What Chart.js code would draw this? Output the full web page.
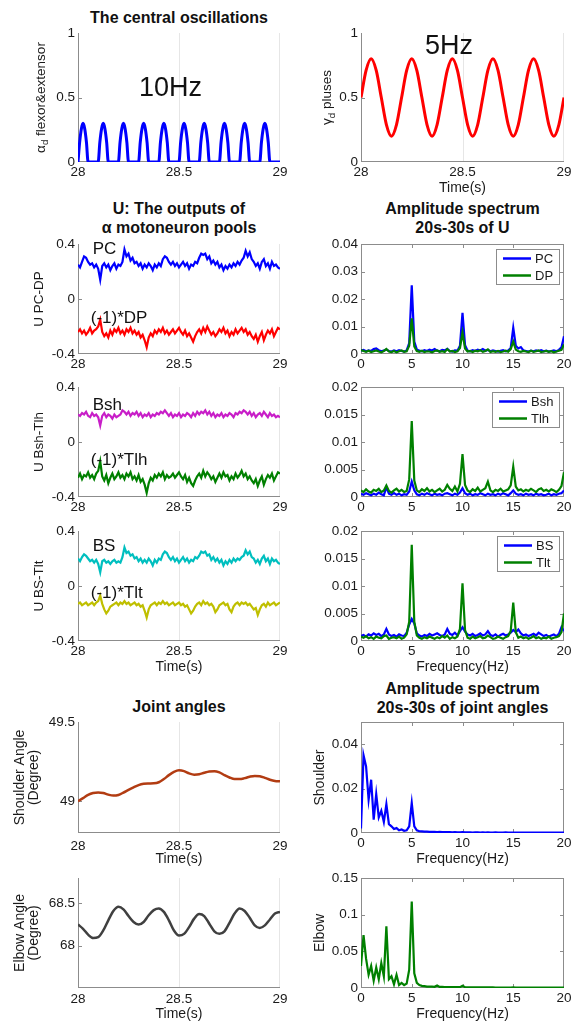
<!DOCTYPE html>
<html>
<head>
<meta charset="utf-8">
<script src="https://cdn.jsdelivr.net/npm/chart.js"></script>
<style>
  body { margin: 0; background: #fff; width: 573px; height: 1023px; position: relative; overflow: hidden;
         font-family: "Liberation Sans", Arial, Helvetica, sans-serif; }
  .ttl { position: absolute; width: 300px; text-align: center; font-weight: bold; font-size: 16px;
         line-height: 19px; color: #111; }
</style>
</head>
<body>
<div class="ttl" style="left:29px;top:7.5px">The central oscillations</div>
<div class="ttl" style="left:29px;top:198.5px">U: The outputs of<br>α motoneuron pools</div>
<div class="ttl" style="left:312.5px;top:198.5px">Amplitude spectrum<br>20s-30s of U</div>
<div class="ttl" style="left:29px;top:696.5px">Joint angles</div>
<div class="ttl" style="left:312.5px;top:678.5px">Amplitude spectrum<br>20s-30s of joint angles</div>
<script>
// ---- data ----
var timeTicks = [28, 28.5, 29];
var freqTicks = [0, 5, 10, 15, 20];

// 10 Hz rectified alpha drive
var alphaT = [28,28.008,28.017,28.025,28.033,28.042,28.05,
  28.1,28.108,28.117,28.125,28.133,28.142,28.15,
  28.2,28.208,28.217,28.225,28.233,28.242,28.25,
  28.3,28.308,28.317,28.325,28.333,28.342,28.35,
  28.4,28.408,28.417,28.425,28.433,28.442,28.45,
  28.5,28.508,28.517,28.525,28.533,28.542,28.55,
  28.6,28.608,28.617,28.625,28.633,28.642,28.65,
  28.7,28.708,28.717,28.725,28.733,28.742,28.75,
  28.8,28.808,28.817,28.825,28.833,28.842,28.85,
  28.9,28.908,28.917,28.925,28.933,28.942,28.95,
  29];
var alphaV = [0,0.15,0.26,0.3,0.26,0.15,0, 0,0.15,0.26,0.3,0.26,0.15,0,
  0,0.15,0.26,0.3,0.26,0.15,0, 0,0.15,0.26,0.3,0.26,0.15,0,
  0,0.15,0.26,0.3,0.26,0.15,0, 0,0.15,0.26,0.3,0.26,0.15,0,
  0,0.15,0.26,0.3,0.26,0.15,0, 0,0.15,0.26,0.3,0.26,0.15,0,
  0,0.15,0.26,0.3,0.26,0.15,0, 0,0.15,0.26,0.3,0.26,0.15,0,
  0];

// coarse time base (25 ms)
var tCoarse = [28,28.025,28.05,28.075,28.1,28.125,28.15,28.175,28.2,28.225,
  28.25,28.275,28.3,28.325,28.35,28.375,28.4,28.425,28.45,28.475,
  28.5,28.525,28.55,28.575,28.6,28.625,28.65,28.675,28.7,28.725,
  28.75,28.775,28.8,28.825,28.85,28.875,28.9,28.925,28.95,28.975,29];
var gammaV = [0.5,0.71,0.8,0.71,0.5,0.29,0.2,0.29, 0.5,0.71,0.8,0.71,0.5,0.29,0.2,0.29,
  0.5,0.71,0.8,0.71,0.5,0.29,0.2,0.29, 0.5,0.71,0.8,0.71,0.5,0.29,0.2,0.29,
  0.5,0.71,0.8,0.71,0.5,0.29,0.2,0.29, 0.5];
var shoulderV = [49.000,49.020,49.040,49.052,49.056,49.052,49.042,49.036,49.040,49.055,
  49.072,49.088,49.102,49.110,49.112,49.113,49.120,49.140,49.165,49.185,
  49.195,49.190,49.176,49.168,49.170,49.180,49.188,49.190,49.182,49.165,
  49.150,49.140,49.140,49.146,49.155,49.160,49.158,49.148,49.136,49.128,49.126];
var elbowV = [68.25,68.20,68.13,68.09,68.10,68.18,68.30,68.41,68.46,68.43,
  68.35,68.28,68.25,68.28,68.36,68.42,68.44,68.40,68.30,68.18,
  68.12,68.14,68.22,68.32,68.375,68.35,68.26,68.17,68.14,68.17,
  68.27,68.38,68.44,68.41,68.33,68.24,68.21,68.24,68.31,68.38,68.40];

// motoneuron outputs (10 ms)
var tU = [28,28.01,28.02,28.03,28.04,28.05,28.06,28.07,28.08,28.09,
  28.1,28.11,28.12,28.13,28.14,28.15,28.16,28.17,28.18,28.19,
  28.2,28.21,28.22,28.23,28.24,28.25,28.26,28.27,28.28,28.29,
  28.3,28.31,28.32,28.33,28.34,28.35,28.36,28.37,28.38,28.39,
  28.4,28.41,28.42,28.43,28.44,28.45,28.46,28.47,28.48,28.49,
  28.5,28.51,28.52,28.53,28.54,28.55,28.56,28.57,28.58,28.59,
  28.6,28.61,28.62,28.63,28.64,28.65,28.66,28.67,28.68,28.69,
  28.7,28.71,28.72,28.73,28.74,28.75,28.76,28.77,28.78,28.79,
  28.8,28.81,28.82,28.83,28.84,28.85,28.86,28.87,28.88,28.89,
  28.9,28.91,28.92,28.93,28.94,28.95,28.96,28.97,28.98,28.99,29];
var uPC = [0.25,0.23,0.27,0.31,0.30,0.27,0.25,0.26,0.23,0.25,
  0.22,0.14,0.24,0.26,0.23,0.25,0.21,0.24,0.26,0.22,
  0.25,0.24,0.27,0.36,0.31,0.33,0.28,0.30,0.26,0.27,
  0.24,0.26,0.22,0.25,0.23,0.26,0.24,0.21,0.25,0.23,
  0.26,0.24,0.29,0.31,0.30,0.27,0.25,0.27,0.24,0.26,
  0.23,0.25,0.27,0.24,0.26,0.22,0.25,0.24,0.27,0.26,
  0.30,0.33,0.32,0.33,0.29,0.31,0.26,0.28,0.25,0.27,
  0.23,0.25,0.21,0.24,0.22,0.25,0.23,0.26,0.24,0.27,
  0.25,0.28,0.30,0.35,0.31,0.34,0.29,0.27,0.24,0.26,
  0.22,0.27,0.29,0.24,0.26,0.22,0.27,0.24,0.25,0.23,0.22];
var uDP = [-0.24,-0.22,-0.25,-0.23,-0.26,-0.24,-0.21,-0.25,-0.23,-0.22,
  -0.20,-0.15,-0.24,-0.27,-0.25,-0.28,-0.23,-0.26,-0.22,-0.24,
  -0.21,-0.25,-0.23,-0.26,-0.22,-0.24,-0.21,-0.25,-0.23,-0.26,
  -0.24,-0.28,-0.26,-0.30,-0.35,-0.28,-0.25,-0.27,-0.23,-0.25,
  -0.22,-0.24,-0.21,-0.25,-0.23,-0.26,-0.24,-0.22,-0.25,-0.23,
  -0.21,-0.24,-0.26,-0.23,-0.27,-0.25,-0.28,-0.31,-0.27,-0.24,
  -0.22,-0.25,-0.21,-0.24,-0.20,-0.23,-0.26,-0.24,-0.27,-0.25,
  -0.22,-0.24,-0.21,-0.25,-0.23,-0.27,-0.24,-0.26,-0.22,-0.25,
  -0.23,-0.21,-0.24,-0.22,-0.26,-0.24,-0.27,-0.29,-0.26,-0.31,
  -0.27,-0.24,-0.30,-0.26,-0.23,-0.25,-0.22,-0.27,-0.24,-0.21,-0.22];
var uBsh = [0.20,0.19,0.21,0.20,0.22,0.19,0.18,0.21,0.19,0.20,
  0.18,0.12,0.19,0.21,0.18,0.20,0.19,0.17,0.20,0.18,
  0.19,0.20,0.23,0.22,0.20,0.22,0.19,0.21,0.20,0.22,
  0.19,0.21,0.18,0.20,0.19,0.21,0.18,0.20,0.19,0.21,
  0.20,0.22,0.21,0.23,0.21,0.19,0.21,0.18,0.20,0.19,
  0.21,0.18,0.20,0.19,0.21,0.20,0.18,0.21,0.19,0.22,
  0.20,0.22,0.21,0.23,0.20,0.22,0.19,0.21,0.18,0.20,
  0.19,0.21,0.18,0.20,0.19,0.21,0.20,0.18,0.21,0.20,
  0.22,0.21,0.23,0.22,0.20,0.22,0.19,0.21,0.18,0.20,
  0.21,0.19,0.22,0.20,0.18,0.21,0.19,0.20,0.18,0.19,0.18];
var uTlh = [-0.26,-0.23,-0.27,-0.24,-0.25,-0.22,-0.26,-0.24,-0.27,-0.23,
  -0.21,-0.14,-0.25,-0.28,-0.24,-0.30,-0.26,-0.23,-0.27,-0.25,
  -0.22,-0.26,-0.24,-0.27,-0.23,-0.25,-0.22,-0.27,-0.25,-0.28,
  -0.24,-0.29,-0.27,-0.31,-0.37,-0.30,-0.26,-0.28,-0.24,-0.26,
  -0.23,-0.25,-0.22,-0.27,-0.24,-0.26,-0.25,-0.23,-0.26,-0.24,
  -0.22,-0.25,-0.27,-0.24,-0.29,-0.26,-0.30,-0.32,-0.28,-0.25,
  -0.23,-0.26,-0.21,-0.25,-0.22,-0.24,-0.27,-0.25,-0.29,-0.26,
  -0.23,-0.26,-0.22,-0.25,-0.24,-0.28,-0.25,-0.27,-0.23,-0.26,
  -0.24,-0.21,-0.25,-0.23,-0.27,-0.25,-0.28,-0.30,-0.27,-0.32,
  -0.28,-0.25,-0.31,-0.27,-0.24,-0.26,-0.23,-0.28,-0.25,-0.22,-0.23];
var uBS = [0.20,0.18,0.21,0.23,0.22,0.20,0.18,0.19,0.17,0.19,
  0.16,0.10,0.18,0.19,0.17,0.18,0.16,0.18,0.19,0.17,
  0.18,0.17,0.21,0.28,0.24,0.25,0.22,0.23,0.20,0.21,
  0.18,0.20,0.17,0.19,0.17,0.20,0.18,0.15,0.19,0.17,
  0.20,0.19,0.23,0.25,0.24,0.21,0.19,0.21,0.18,0.20,
  0.17,0.19,0.21,0.18,0.20,0.17,0.19,0.18,0.21,0.20,
  0.22,0.25,0.24,0.25,0.22,0.23,0.19,0.21,0.18,0.20,
  0.17,0.19,0.15,0.18,0.16,0.19,0.17,0.20,0.18,0.20,
  0.19,0.21,0.22,0.26,0.23,0.25,0.21,0.20,0.17,0.19,
  0.16,0.20,0.22,0.18,0.20,0.16,0.20,0.18,0.19,0.17,0.16];
var uTlt = [-0.13,-0.12,-0.14,-0.13,-0.12,-0.14,-0.13,-0.12,-0.14,-0.12,
  -0.11,-0.07,-0.13,-0.17,-0.20,-0.18,-0.15,-0.14,-0.13,-0.12,
  -0.14,-0.12,-0.13,-0.11,-0.13,-0.12,-0.14,-0.13,-0.12,-0.14,
  -0.13,-0.15,-0.14,-0.18,-0.23,-0.17,-0.14,-0.13,-0.12,-0.14,
  -0.12,-0.13,-0.11,-0.13,-0.12,-0.14,-0.13,-0.12,-0.14,-0.13,
  -0.12,-0.14,-0.13,-0.15,-0.14,-0.17,-0.20,-0.18,-0.15,-0.13,
  -0.12,-0.14,-0.11,-0.13,-0.12,-0.14,-0.13,-0.15,-0.19,-0.17,
  -0.14,-0.13,-0.12,-0.14,-0.13,-0.17,-0.19,-0.15,-0.13,-0.12,
  -0.14,-0.12,-0.13,-0.12,-0.14,-0.13,-0.15,-0.17,-0.16,-0.21,
  -0.17,-0.14,-0.13,-0.15,-0.12,-0.14,-0.13,-0.12,-0.14,-0.13,-0.12];

// amplitude spectra (0.25 Hz bins)
var freq = [0,0.25,0.5,0.75,1,1.25,1.5,1.75,2,2.25,
  2.5,2.75,3,3.25,3.5,3.75,4,4.25,4.5,4.75,
  5,5.25,5.5,5.75,6,6.25,6.5,6.75,7,7.25,
  7.5,7.75,8,8.25,8.5,8.75,9,9.25,9.5,9.75,
  10,10.25,10.5,10.75,11,11.25,11.5,11.75,12,12.25,
  12.5,12.75,13,13.25,13.5,13.75,14,14.25,14.5,14.75,
  15,15.25,15.5,15.75,16,16.25,16.5,16.75,17,17.25,
  17.5,17.75,18,18.25,18.5,18.75,19,19.25,19.5,19.75,20];
var specPC = [0.0012,0.0015,0.0010,0.0013,0.0011,0.0018,0.0020,0.0014,0.0010,0.0013,
  0.0016,0.0011,0.0009,0.0013,0.0010,0.0014,0.0011,0.0009,0.0013,0.0040,
  0.0250,0.0045,0.0016,0.0012,0.0010,0.0014,0.0011,0.0016,0.0013,0.0018,
  0.0012,0.0010,0.0015,0.0013,0.0019,0.0011,0.0009,0.0013,0.0012,0.0030,
  0.0150,0.0032,0.0012,0.0010,0.0014,0.0011,0.0016,0.0013,0.0018,0.0012,
  0.0015,0.0010,0.0013,0.0011,0.0009,0.0012,0.0014,0.0010,0.0013,0.0022,
  0.0095,0.0030,0.0020,0.0025,0.0013,0.0011,0.0009,0.0012,0.0010,0.0013,
  0.0011,0.0014,0.0010,0.0012,0.0009,0.0011,0.0013,0.0010,0.0015,0.0024,0.0065];
var specDP = [0.0014,0.0011,0.0008,0.0012,0.0007,0.0010,0.0013,0.0009,0.0006,0.0011,
  0.0018,0.0009,0.0007,0.0011,0.0006,0.0010,0.0013,0.0008,0.0010,0.0030,
  0.0130,0.0028,0.0011,0.0008,0.0012,0.0007,0.0010,0.0009,0.0006,0.0011,
  0.0013,0.0008,0.0010,0.0007,0.0018,0.0009,0.0011,0.0007,0.0010,0.0022,
  0.0078,0.0020,0.0009,0.0011,0.0007,0.0012,0.0010,0.0014,0.0008,0.0011,
  0.0017,0.0007,0.0010,0.0008,0.0011,0.0007,0.0009,0.0012,0.0008,0.0018,
  0.0045,0.0016,0.0010,0.0008,0.0011,0.0009,0.0007,0.0012,0.0008,0.0010,
  0.0013,0.0007,0.0009,0.0011,0.0008,0.0010,0.0006,0.0009,0.0012,0.0015,0.0035];
var specBsh = [0.0006,0.0004,0.0007,0.0005,0.0003,0.0006,0.0004,0.0008,0.0005,0.0003,
  0.0018,0.0006,0.0004,0.0007,0.0004,0.0006,0.0003,0.0005,0.0004,0.0010,
  0.0028,0.0012,0.0005,0.0003,0.0006,0.0004,0.0007,0.0005,0.0003,0.0006,
  0.0004,0.0005,0.0003,0.0006,0.0007,0.0005,0.0003,0.0006,0.0004,0.0008,
  0.0016,0.0007,0.0004,0.0006,0.0003,0.0005,0.0004,0.0007,0.0005,0.0003,
  0.0006,0.0004,0.0005,0.0003,0.0006,0.0004,0.0007,0.0005,0.0003,0.0007,
  0.0012,0.0006,0.0004,0.0005,0.0003,0.0006,0.0004,0.0005,0.0003,0.0006,
  0.0004,0.0005,0.0003,0.0004,0.0006,0.0003,0.0005,0.0004,0.0006,0.0007,0.0012];
var specTlh = [0.0012,0.0009,0.0014,0.0010,0.0008,0.0013,0.0011,0.0015,0.0009,0.0012,
  0.0021,0.0011,0.0008,0.0012,0.0015,0.0010,0.0013,0.0009,0.0011,0.0032,
  0.0138,0.0030,0.0012,0.0009,0.0014,0.0011,0.0016,0.0010,0.0013,0.0009,
  0.0012,0.0015,0.0010,0.0013,0.0022,0.0015,0.0011,0.0019,0.0010,0.0024,
  0.0078,0.0022,0.0012,0.0009,0.0014,0.0011,0.0017,0.0010,0.0013,0.0016,
  0.0028,0.0012,0.0009,0.0013,0.0011,0.0015,0.0010,0.0012,0.0014,0.0021,
  0.0055,0.0019,0.0012,0.0014,0.0010,0.0013,0.0011,0.0015,0.0012,0.0009,
  0.0014,0.0016,0.0011,0.0013,0.0010,0.0014,0.0012,0.0009,0.0013,0.0020,0.0045];
var specBS = [0.0009,0.0011,0.0008,0.0012,0.0010,0.0014,0.0011,0.0013,0.0009,0.0012,
  0.0022,0.0012,0.0009,0.0011,0.0008,0.0012,0.0010,0.0009,0.0015,0.0030,
  0.0040,0.0032,0.0014,0.0010,0.0008,0.0011,0.0009,0.0013,0.0010,0.0012,
  0.0014,0.0011,0.0009,0.0012,0.0022,0.0013,0.0011,0.0015,0.0010,0.0018,
  0.0025,0.0017,0.0012,0.0010,0.0013,0.0009,0.0011,0.0014,0.0010,0.0012,
  0.0018,0.0011,0.0009,0.0012,0.0008,0.0011,0.0013,0.0010,0.0012,0.0015,
  0.0020,0.0016,0.0021,0.0014,0.0010,0.0012,0.0009,0.0011,0.0013,0.0010,
  0.0015,0.0012,0.0009,0.0011,0.0008,0.0010,0.0012,0.0009,0.0013,0.0025,0.0018];
var specTlt = [0.0008,0.0006,0.0009,0.0005,0.0007,0.0004,0.0008,0.0006,0.0005,0.0009,
  0.0010,0.0004,0.0006,0.0007,0.0005,0.0008,0.0004,0.0006,0.0012,0.0035,
  0.0175,0.0035,0.0010,0.0006,0.0004,0.0007,0.0005,0.0008,0.0006,0.0004,
  0.0007,0.0005,0.0009,0.0006,0.0010,0.0004,0.0007,0.0005,0.0008,0.0022,
  0.0105,0.0020,0.0006,0.0004,0.0008,0.0005,0.0007,0.0009,0.0005,0.0006,
  0.0010,0.0007,0.0004,0.0005,0.0008,0.0006,0.0004,0.0007,0.0009,0.0018,
  0.0070,0.0016,0.0006,0.0008,0.0005,0.0007,0.0004,0.0006,0.0009,0.0005,
  0.0007,0.0004,0.0006,0.0005,0.0008,0.0004,0.0006,0.0007,0.0009,0.0016,0.0050];
var specShoulder = [0.0020,0.0350,0.0300,0.0150,0.0240,0.0060,0.0175,0.0070,0.0100,0.0050,
  0.0130,0.0040,0.0030,0.0018,0.0022,0.0012,0.0016,0.0010,0.0012,0.0030,
  0.0135,0.0030,0.0012,0.0008,0.0007,0.0006,0.0006,0.0005,0.0005,0.0005,
  0.0004,0.0005,0.0004,0.0004,0.0004,0.0004,0.0003,0.0004,0.0003,0.0003,
  0.0004,0.0003,0.0003,0.0003,0.0002,0.0003,0.0003,0.0002,0.0003,0.0002,
  0.0003,0.0002,0.0002,0.0003,0.0002,0.0002,0.0002,0.0003,0.0002,0.0002,
  0.0002,0.0002,0.0002,0.0002,0.0002,0.0002,0.0002,0.0002,0.0002,0.0002,
  0.0002,0.0002,0.0002,0.0002,0.0002,0.0002,0.0002,0.0002,0.0002,0.0002,0.0002];
var specElbow = [0.030,0.072,0.040,0.018,0.030,0.010,0.028,0.012,0.034,0.016,
  0.084,0.012,0.016,0.005,0.018,0.004,0.007,0.004,0.006,0.025,
  0.118,0.020,0.007,0.004,0.003,0.0025,0.002,0.002,0.0018,0.0016,
  0.0035,0.0015,0.0014,0.0013,0.0013,0.0012,0.0012,0.0011,0.0011,0.0012,
  0.0030,0.0012,0.0010,0.0010,0.0009,0.0009,0.0009,0.0008,0.0008,0.0008,
  0.0009,0.0008,0.0008,0.0007,0.0007,0.0007,0.0007,0.0007,0.0007,0.0007,
  0.0008,0.0007,0.0007,0.0006,0.0006,0.0006,0.0006,0.0006,0.0006,0.0006,
  0.0006,0.0006,0.0006,0.0006,0.0006,0.0006,0.0006,0.0006,0.0006,0.0006,0.0006];

// ---- drawing ----
var FONT = '"Liberation Sans", Arial, Helvetica, sans-serif';
var TXT = "#1a1a1a", AXIS = "#8c8c8c", GRID = "#e6e6e6";
var BLUE = "#0000ff", RED = "#ff0000", GREEN = "#008000";
var PAD_L = 78, PAD_T = 14, PAD_R = 16, PAD_B = 40;
Chart.defaults.font.family = FONT;

function drawRot(ctx, cx, cy, parts, size) {
  ctx.save();
  ctx.translate(cx, cy);
  ctx.rotate(-Math.PI / 2);
  ctx.fillStyle = TXT;
  ctx.textBaseline = "middle";
  ctx.textAlign = "left";
  var w = 0;
  parts.forEach(function (p) {
    ctx.font = (p.sub ? size * 0.72 : size) + "px " + FONT;
    w += ctx.measureText(p.t).width;
  });
  var x0 = -w / 2;
  parts.forEach(function (p) {
    ctx.font = (p.sub ? size * 0.72 : size) + "px " + FONT;
    ctx.fillText(p.t, x0, p.sub ? size * 0.32 : 0);
    x0 += ctx.measureText(p.t).width;
  });
  ctx.restore();
}

function makeDeco(o) {
  function seg(ctx, x1, y1, x2, y2) {
    ctx.beginPath(); ctx.moveTo(x1, y1); ctx.lineTo(x2, y2); ctx.stroke();
  }
  return {
    id: "deco",
    beforeDatasetsDraw: function (chart) {
      var ctx = chart.ctx, a = chart.chartArea, x = chart.scales.x, y = chart.scales.y;
      ctx.save();
      ctx.lineWidth = 1;
      if (o.box) {
        ctx.strokeStyle = AXIS;
        ctx.strokeRect(a.left + 0.5, a.top + 0.5, a.width - 1, a.height - 1);
        o.xt.forEach(function (v) {
          if (v > o.xr[0] && v < o.xr[1]) {
            var p = Math.round(x.getPixelForValue(v)) + 0.5;
            seg(ctx, p, a.bottom, p, a.bottom - 4);
            seg(ctx, p, a.top, p, a.top + 4);
          }
        });
        o.yt.forEach(function (v) {
          if (v > o.yr[0] && v < o.yr[1]) {
            var p = Math.round(y.getPixelForValue(v)) + 0.5;
            seg(ctx, a.left, p, a.left + 4, p);
            seg(ctx, a.right, p, a.right - 4, p);
          }
        });
      } else {
        ctx.strokeStyle = GRID;
        o.xt.forEach(function (v) {
          if (v > o.xr[0]) {
            var p = Math.min(Math.round(x.getPixelForValue(v)) + 0.5, a.right - 0.5);
            seg(ctx, p, a.top, p, a.bottom);
          }
        });
        ctx.strokeStyle = AXIS;
        seg(ctx, a.left + 0.5, a.top, a.left + 0.5, a.bottom);
        seg(ctx, a.left, a.bottom - 0.5, a.right, a.bottom - 0.5);
        o.yt.forEach(function (v) {
          if (v > o.yr[0] && v < o.yr[1]) {
            var p = Math.round(y.getPixelForValue(v)) + 0.5;
            seg(ctx, a.left, p, a.left + 4, p);
          }
        });
      }
      ctx.restore();
    },
    afterDatasetsDraw: function (chart) {
      var ctx = chart.ctx, a = chart.chartArea, x = chart.scales.x, y = chart.scales.y;
      ctx.save();
      (o.texts || []).forEach(function (t) {
        ctx.font = t.size + "px " + FONT;
        ctx.fillStyle = "#111";
        ctx.textAlign = t.align || "left";
        ctx.textBaseline = "middle";
        ctx.fillText(t.t, x.getPixelForValue(t.x), y.getPixelForValue(t.y));
      });
      if (o.legend) {
        var ds = chart.data.datasets;
        ctx.font = "13px " + FONT;
        var tw = Math.max.apply(null, ds.map(function (d) { return ctx.measureText(d.label).width; }));
        var bw = Math.round(45 + tw), bh = 18 + 17 * (ds.length - 1);
        var bx = Math.round(a.right - 5 - bw), by = Math.round(a.top + 5);
        ctx.fillStyle = "#fff";
        ctx.fillRect(bx, by, bw, bh);
        ctx.strokeStyle = AXIS;
        ctx.lineWidth = 1;
        ctx.strokeRect(bx + 0.5, by + 0.5, bw, bh);
        ds.forEach(function (d, i) {
          var cy = by + 9.5 + 17 * i;
          ctx.strokeStyle = d.borderColor;
          ctx.lineWidth = 2.5;
          seg(ctx, bx + 7, cy, bx + 35, cy);
          ctx.fillStyle = TXT;
          ctx.textAlign = "left";
          ctx.textBaseline = "middle";
          ctx.fillText(d.label, bx + 39, cy + 0.5);
        });
      }
      ctx.restore();
    },
    afterDraw: function (chart) {
      var ctx = chart.ctx, a = chart.chartArea;
      (o.ylab || []).forEach(function (l) {
        drawRot(ctx, l.x - o.left, (a.top + a.bottom) / 2, l.parts, l.size || 13.5);
      });
      if (o.xlab) {
        ctx.save();
        ctx.font = "14px " + FONT;
        ctx.fillStyle = TXT;
        ctx.textAlign = "center";
        ctx.textBaseline = "middle";
        ctx.fillText(o.xlab, (a.left + a.right) / 2, a.bottom + 26);
        ctx.restore();
      }
    }
  };
}

function panel(px, py, pw, ph, o) {
  var c = document.createElement("canvas");
  var W = PAD_L + pw + PAD_R, H = PAD_T + ph + PAD_B;
  c.width = W; c.height = H;
  c.style.cssText = "position:absolute;left:" + (px - PAD_L) + "px;top:" + (py - PAD_T) + "px;width:" + W + "px;height:" + H + "px";
  document.body.appendChild(c);
  o.left = px - PAD_L;
  new Chart(c, {
    type: "line",
    data: {
      datasets: o.sets.map(function (s) {
        return {
          label: s.label,
          data: s.x.map(function (v, i) { return { x: v, y: s.y[i] }; }),
          borderColor: s.color,
          borderWidth: s.width || 2.2,
          pointRadius: 0,
          fill: false,
          cubicInterpolationMode: s.smooth ? "monotone" : "default",
          order: s.order || 0
        };
      })
    },
    options: {
      responsive: false,
      animation: false,
      events: [],
      devicePixelRatio: 1,
      layout: { padding: { top: PAD_T, right: PAD_R, left: 0, bottom: 0 } },
      plugins: { legend: { display: false }, tooltip: { enabled: false } },
      scales: {
        x: {
          type: "linear", min: o.xr[0], max: o.xr[1],
          afterBuildTicks: function (s) { s.ticks = o.xt.map(function (v) { return { value: v }; }); },
          afterFit: function (s) { s.height = PAD_B; },
          grid: { display: false, drawTicks: false }, border: { display: false },
          ticks: { padding: o.tpad || 2, color: TXT, font: { size: 13.5 }, maxRotation: 0, autoSkip: false,
                   callback: function (v) { return String(v); } }
        },
        y: {
          type: "linear", min: o.yr[0], max: o.yr[1],
          afterBuildTicks: function (s) { s.ticks = o.yt.map(function (v) { return { value: v }; }); },
          afterFit: function (s) { s.width = PAD_L; },
          grid: { display: false, drawTicks: false }, border: { display: false },
          ticks: { padding: 3, color: TXT, font: { size: 13.5 }, autoSkip: false,
                   callback: function (v) { return String(v); } }
        }
      }
    },
    plugins: [makeDeco(o)]
  });
}

var LX = 78, LW = 202, RX = 361, RW = 203;

// row 1: central oscillations
panel(LX, 33, LW, 129, {
  sets: [{ x: alphaT, y: alphaV, color: BLUE, width: 3, smooth: true }],
  xr: [28, 29], xt: timeTicks, yr: [0, 1], yt: [0, 0.5, 1],
  ylab: [{ x: 41, parts: [{ t: "α" }, { t: "d", sub: true }, { t: " flexor&extensor" }] }],
  texts: [{ x: 28.458, y: 0.566, t: "10Hz", size: 27, align: "center" }]
});
panel(RX, 33, RW, 129, {
  sets: [{ x: tCoarse, y: gammaV, color: RED, width: 3, smooth: true }],
  xr: [28, 29], xt: timeTicks, yr: [0, 1], yt: [0, 0.5, 1],
  ylab: [{ x: 327.5, parts: [{ t: "γ" }, { t: "d", sub: true }, { t: " pluses" }] }],
  xlab: "Time(s)",
  texts: [{ x: 28.433, y: 0.894, t: "5Hz", size: 27, align: "center" }]
});

// rows 2-4: motoneuron outputs and their spectra
var uRows = [
  { top: 244, a: ["PC", uPC, BLUE], b: ["DP", uDP, RED], sa: specPC, sb: specDP, ymax: 0.04,
    yt: [0, 0.01, 0.02, 0.03, 0.04], lab: "U PC-DP", ya: 0.36, yb: -0.142 },
  { top: 387, a: ["Bsh", uBsh, "#c81ec8"], b: ["Tlh", uTlh, GREEN], sa: specBsh, sb: specTlh, ymax: 0.02,
    yt: [0, 0.005, 0.01, 0.015, 0.02], lab: "U Bsh-Tlh", ya: 0.269, yb: -0.131 },
  { top: 531, a: ["BS", uBS, "#00bfbf"], b: ["Tlt", uTlt, "#bfbf00"], sa: specBS, sb: specTlt, ymax: 0.02,
    yt: [0, 0.005, 0.01, 0.015, 0.02], lab: "U BS-Tlt", ya: 0.291, yb: -0.051 }
];
uRows.forEach(function (r, i) {
  var last = i === uRows.length - 1;
  panel(LX, r.top, LW, 110, {
    sets: [{ x: tU, y: r.a[1], color: r.a[2] }, { x: tU, y: r.b[1], color: r.b[2] }],
    xr: [28, 29], xt: timeTicks, yr: [-0.4, 0.4], yt: [-0.4, 0, 0.4],
    ylab: [{ x: 39, parts: [{ t: r.lab }] }],
    xlab: last ? "Time(s)" : null,
    texts: [{ x: 28.073, y: r.ya, t: r.a[0], size: 17 }, { x: 28.063, y: r.yb, t: "(-1)*" + r.b[0], size: 17 }]
  });
  panel(RX, r.top, RW, 110, {
    sets: [{ label: r.a[0], x: freq, y: r.sa, color: BLUE, order: 1 },
           { label: r.b[0], x: freq, y: r.sb, color: GREEN, order: 0 }],
    xr: [0, 20], xt: freqTicks, yr: [0, r.ymax], yt: r.yt, box: true, legend: true,
    xlab: last ? "Frequency(Hz)" : null
  });
});

// rows 5-6: joint angles and their spectra
panel(LX, 722, LW, 111, {
  sets: [{ x: tCoarse, y: shoulderV, color: "#b23c12", width: 2.5, smooth: true }],
  xr: [28, 29], xt: timeTicks, yr: [48.8, 49.5], yt: [49, 49.5], tpad: 5,
  ylab: [{ x: 20, parts: [{ t: "Shoulder Angle" }], size: 14 }, { x: 34, parts: [{ t: "(Degree)" }], size: 14 }],
  xlab: "Time(s)"
});
panel(RX, 722, RW, 111, {
  sets: [{ x: freq, y: specShoulder, color: BLUE }],
  xr: [0, 20], xt: freqTicks, yr: [0, 0.05], yt: [0, 0.02, 0.04], box: true,
  ylab: [{ x: 320, parts: [{ t: "Shoulder" }], size: 14 }],
  xlab: "Frequency(Hz)"
});
panel(LX, 878, LW, 110, {
  sets: [{ x: tCoarse, y: elbowV, color: "#404040", width: 2.5, smooth: true }],
  xr: [28, 29], xt: timeTicks, yr: [67.5, 68.8], yt: [68, 68.5], tpad: 3,
  ylab: [{ x: 20, parts: [{ t: "Elbow Angle" }], size: 14 }, { x: 34, parts: [{ t: "(Degree)" }], size: 14 }],
  xlab: "Time(s)"
});
panel(RX, 878, RW, 110, {
  sets: [{ x: freq, y: specElbow, color: GREEN }],
  xr: [0, 20], xt: freqTicks, yr: [0, 0.15], yt: [0, 0.05, 0.1, 0.15], box: true,
  ylab: [{ x: 320, parts: [{ t: "Elbow" }], size: 14 }],
  xlab: "Frequency(Hz)"
});
</script>
</body>
</html>
